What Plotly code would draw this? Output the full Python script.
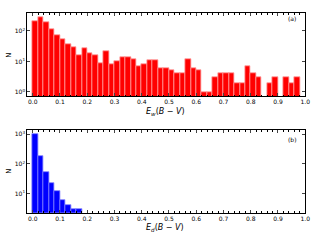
import plotly.graph_objects as go

# ---- data ----
bin_width = 0.02
bins_a = [round(i * bin_width, 2) for i in range(50)]
counts_a = [213, 288, 193, 113, 70, 53, 36, 30, 16, 27,
            18, 16, 9, 21, 8, 10, 14, 14, 12, 7,
            8, 11, 11, 6, 6, 5, 4, 4, 12, 6,
            5, 1, 1, 3, 4, 4, 4, 2, 2, 7,
            4, 3, 0, 2, 3, 0, 3, 2, 3, 0]
bins_b = [round(i * bin_width, 2) for i in range(9)]
counts_b = [1050, 186, 52, 22, 12, 6, 4, 3, 3]

xticks = [0.0, 0.1, 0.2, 0.3, 0.4, 0.5, 0.6, 0.7, 0.8, 0.9, 1.0]
yticks_a = [1, 10, 100]
yticks_b = [10, 100, 1000]
yticktext_a = ["10<sup>0</sup>", "10<sup>1</sup>", "10<sup>2</sup>"]
yticktext_b = ["10<sup>1</sup>", "10<sup>2</sup>", "10<sup>3</sup>"]

FONT = "DejaVu Sans"

fig = go.Figure()
fig.add_trace(go.Bar(
    x=bins_a, y=[c if c > 0 else None for c in counts_a], width=bin_width, offset=0,
    marker=dict(color="#ff0000", line=dict(color="#ff9a9a", width=0.8)),
    xaxis="x", yaxis="y", showlegend=False))
fig.add_trace(go.Bar(
    x=bins_b, y=counts_b, width=bin_width, offset=0,
    marker=dict(color="#0000ff", line=dict(color="#8080ff", width=0.8)),
    xaxis="x2", yaxis="y2", showlegend=False))

common_x = dict(range=[-0.02, 1.0], tickvals=xticks, tickformat=".1f",
                ticks="inside", ticklen=3, tickwidth=0.8, mirror="allticks",
                showline=True, linecolor="black", linewidth=1, showgrid=False,
                zeroline=False, tickfont=dict(size=6, family=FONT, color="black"),
                minor=dict(dtick=0.02, ticks="inside", ticklen=1.5, tickcolor="black", showgrid=False))
common_y = dict(type="log", ticks="inside", ticklen=3, tickwidth=0.8, mirror="allticks",
                showline=True, linecolor="black", linewidth=1, showgrid=False,
                zeroline=False, tickfont=dict(size=6, family=FONT, color="black"))

fig.update_layout(
    width=320, height=240, autosize=False,
    margin=dict(l=0, r=0, t=0, b=0),
    paper_bgcolor="white", plot_bgcolor="white",
    bargap=0,
    xaxis=dict(domain=[0.0866, 0.969], anchor="y", **common_x),
    yaxis=dict(domain=[0.599, 0.945], anchor="x", range=[-0.14, 2.58],
               tickvals=yticks_a, ticktext=yticktext_a, **common_y),
    xaxis2=dict(domain=[0.0866, 0.969], anchor="y2", **common_x),
    yaxis2=dict(domain=[0.114, 0.458], anchor="x2", range=[0.36, 3.14],
                tickvals=yticks_b, ticktext=yticktext_b, **common_y),
)


def ann(text, px, py, size, angle=0):
    fig.add_annotation(text=text, x=px / 320, y=1 - py / 240, xref="paper", yref="paper",
                       xanchor="center", yanchor="middle", showarrow=False, textangle=angle,
                       font=dict(size=size, family=FONT, color="black"))


ann("<i>E</i><sub><i>w</i></sub>(<i>B</i> − <i>V</i>)", 168, 112, 8)
ann("<i>E</i><sub><i>d</i></sub>(<i>B</i> − <i>V</i>)", 168, 228, 8)
ann("N", 9, 55, 7, -90)
ann("N", 9, 171, 7, -90)
ann("(a)", 297, 19, 6)
ann("(b)", 297, 139, 6)

fig.write_html("out.html", config={"displayModeBar": False},
               post_script="document.body.style.margin='0';document.body.style.overflow='hidden';")
